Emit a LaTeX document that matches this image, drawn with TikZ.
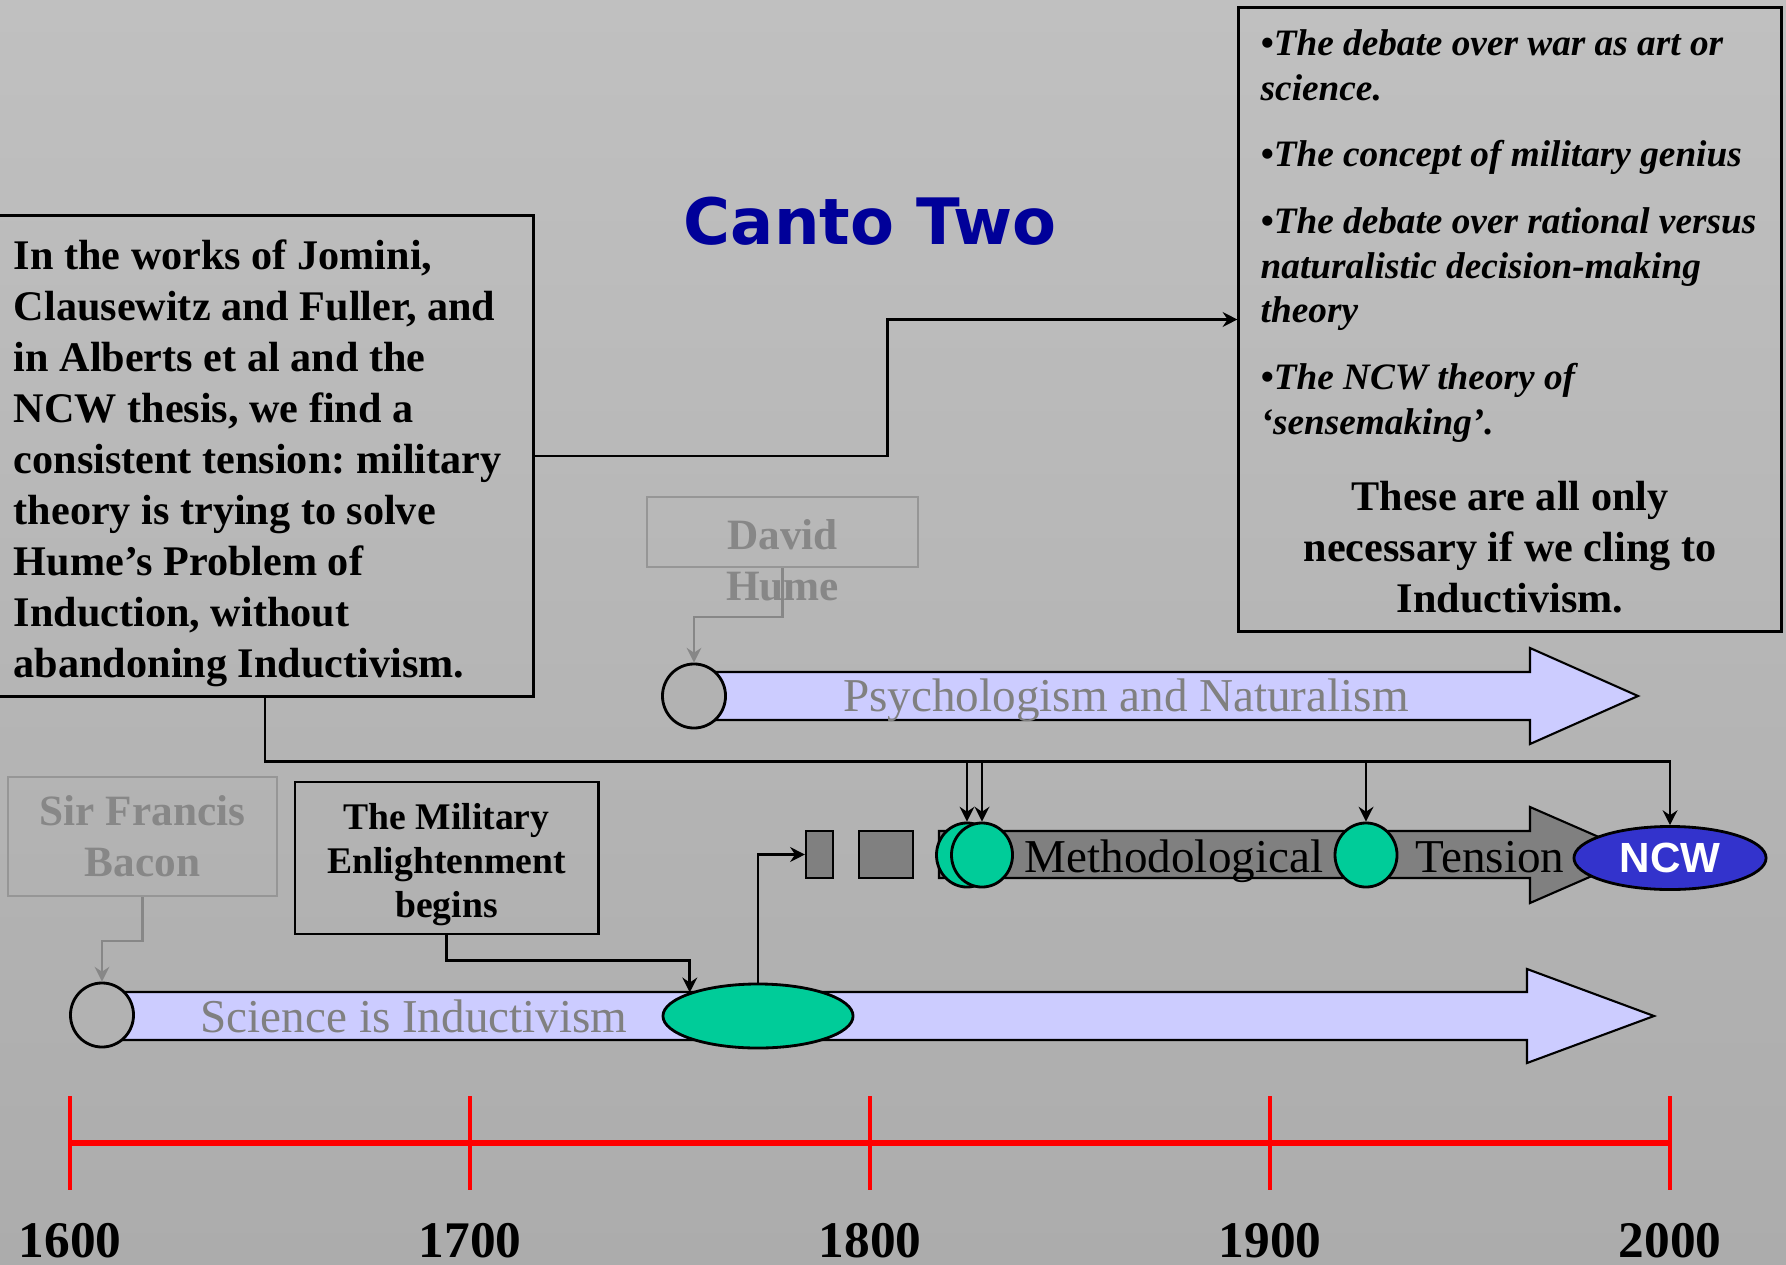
\documentclass[tikz,border=0pt]{standalone}
\usepackage{fontspec}
\setmainfont{Liberation Serif}
\setsansfont{Liberation Sans}
\newfontfamily\cantofont{DejaVu Sans}
\usepackage{xcolor}
\usetikzlibrary{arrows.meta}
\usetikzlibrary{shapes.geometric}

\definecolor{bgtop}{RGB}{192,192,192}
\definecolor{bgbottom}{RGB}{172,172,172}
\definecolor{cantoblue}{RGB}{0,0,153}
\definecolor{lavender}{RGB}{204,204,255}
\definecolor{bandgray}{RGB}{128,128,128}
\definecolor{dotgray}{RGB}{178,178,178}
\definecolor{mint}{RGB}{0,204,153}
\definecolor{ncwblue}{RGB}{51,51,204}
\definecolor{fadetext}{RGB}{135,135,135}
\definecolor{fadeline}{RGB}{150,150,150}

\tikzset{
  conn/.style={draw=black, line width=0.8pt, -{Stealth[length=4.2pt, width=4.2pt, inset=1.4pt]}},
  fadeconn/.style={draw=fadetext, line width=0.6pt, -{Stealth[length=4.2pt, width=4.2pt, inset=1.4pt]}},
  textbox/.style={rectangle, draw=black, line width=0.8pt, inner sep=0pt},
  fadebox/.style={rectangle, draw=fadeline, line width=0.7pt, inner sep=0pt},
  fadename/.style={text=fadetext, align=flush center, inner sep=0pt, font=\bfseries\fontsize{12.3}{14.4}\selectfont},
  band/.style={draw=black, line width=0.6pt},
  stripe/.style={rectangle, draw=black, fill=bandgray, line width=0.6pt, minimum height=0.47cm, inner sep=0pt},
  startdot/.style={ellipse, draw=black, fill=dotgray, line width=0.8pt, minimum width=0.63cm, minimum height=0.64cm, inner sep=0pt},
  greendot/.style={ellipse, draw=black, fill=mint, line width=0.8pt, minimum width=0.61cm, minimum height=0.64cm, inner sep=0pt},
  tick/.style={draw=red, line width=1pt},
  yearlabel/.style={anchor=base, inner sep=0pt, font=\bfseries\fontsize{14.6}{17}\selectfont},
  bandtext/.style={anchor=base, inner sep=0pt, font=\fontsize{13.4}{16}\selectfont},
}

\begin{document}
\frenchspacing
\begin{tikzpicture}[x=0.01cm, y=-0.01cm]
    \useasboundingbox (0,0) rectangle (1786,1264);
    \fill[top color=bgtop, bottom color=bgbottom] (0,0) rectangle (1786,1264);

    % Time axis
    \draw[red, line width=1.5pt] (70,1143) -- (1670,1143);
    \foreach \yr in {1600,1700,1800,1900,2000} {
      \draw[tick] ({70+4*(\yr-1600)},1096) -- ({70+4*(\yr-1600)},1190);
      \node[yearlabel] (y\yr) at ({70+4*(\yr-1600)},1257) {\yr};
    }

    % Bands
    \draw[band, fill=lavender] (694,672) -- (1530,672) -- (1530,648) -- (1638,696)
      -- (1530,744) -- (1530,720) -- (694,720) -- cycle;
    \draw[band, fill=lavender] (102,992) -- (1527,992) -- (1527,969) -- (1654,1016)
      -- (1527,1063) -- (1527,1040) -- (102,1040) -- cycle;
    \draw[band, fill=bandgray] (939,831) -- (1530,831) -- (1530,807) -- (1640,855)
      -- (1530,903) -- (1530,878) -- (939,878) -- cycle;
    \node[stripe, minimum width=0.27cm] (stripeA) at (819.5,854.5) {};
    \node[stripe, minimum width=0.54cm] (stripeB) at (886,854.5) {};

    % Dots on the bands
    \node[startdot] (humedot) at (694,696) {};
    \node[startdot] (bacdot) at (102,1015) {};
    \node[greendot, minimum width=1.9cm] (enl) at (758,1016) {};
    \node[greendot] (mt1) at (967,855) {};
    \node[greendot] (mt2) at (982,855) {};
    \node[greendot, minimum width=0.62cm] (mt3) at (1366,855) {};
    \node[ellipse, draw=black, fill=ncwblue, line width=0.8pt, minimum width=1.92cm, minimum height=0.63cm,
      inner sep=0pt, text=white, font=\sffamily\bfseries\fontsize{12}{14}\selectfont] (ncw) at (1670,858) {NCW};

    % Band labels
    \node[bandtext, text=bandgray] (psylabel) at (1126,711) {Psychologism and Naturalism};
    \node[bandtext, text=bandgray] (scilabel) at (414,1032) {Science is Inductivism};
    \node[bandtext] (methlabel) at (1174,872) {Methodological};
    \node[bandtext] (tenslabel) at (1490,872) {Tension};

    % Title
    \node[anchor=base, inner sep=0pt, text=cantoblue, font=\cantofont\bfseries\fontsize{18.2}{21}\selectfont]
      (title) at (870,245) {Canto Two};

    % Boxes
    \node[textbox, minimum width=5.36cm, minimum height=4.8cm, text width=5.02cm, inner xsep=0.17cm,
      align=flush left, font=\bfseries\fontsize{12}{14.5}\selectfont] (lbox) at (265,456)
      {\rule{0pt}{0.44cm}In the works of Jomini,\\ Clausewitz and Fuller, and\\ in Alberts et al and the\\
       NCW thesis, we find a\\ consistent tension: military\\ theory is trying to solve\\
       Hume’s Problem of\\ Induction, without\\ abandoning Inductivism.};
    \node[textbox, minimum width=5.42cm, minimum height=6.23cm] (rbox) at (1510,319.5) {};
    \node[anchor=north west, inner sep=0pt, align=flush left, font=\bfseries\itshape\fontsize{10.6}{12.7}\selectfont]
      (rlist) at (1260,29)
      {•The debate over war as art or\\ science.\\[0.22cm]
       •The concept of military genius\\[0.22cm]
       •The debate over rational versus\\ naturalistic decision-making\\ theory\\[0.22cm]
       •The NCW theory of\\ ‘sensemaking’.};
    \node[inner sep=0pt, align=flush center, font=\bfseries\fontsize{12}{14.5}\selectfont] (rnote) at (1510,547)
      {These are all only\\ necessary if we cling to\\ Inductivism.};
    \node[textbox, minimum width=3.03cm, minimum height=1.52cm, align=flush center,
      font=\bfseries\fontsize{10.7}{12.5}\selectfont] (enlbox) at (446.5,858)
      {\rule{0pt}{0.40cm}The Military\\ Enlightenment\\ begins};
    \node[fadebox, minimum width=2.69cm, minimum height=1.19cm, fadename] (bacbox) at (142.5,836.5)
      {Sir Francis\\ Bacon};
    \node[fadebox, minimum width=2.71cm, minimum height=0.70cm] (humebox) at (782.5,532) {};
    \node[fadename] (humetxt) at (782.5,560) {David\\ Hume};

    % Connectors
    \draw[conn] (lbox.east) -- ++(353,0) |- (rbox.west);
    \foreach \n in {mt1,mt2,mt3,ncw}
      \draw[conn] (lbox.south) -- ++(0,64) -| (\n.north);
    \draw[conn] (enlbox.south) -- ++(0,25) -| (enl.north west);
    \draw[conn] (enl.north) |- (stripeA.west);
    \draw[fadeconn] (bacbox.south) -- ++(0,44) -| (bacdot.north);
    \draw[fadeconn] (humebox.south) -- ++(0,49) -| (humedot.north);
\end{tikzpicture}
\end{document}
